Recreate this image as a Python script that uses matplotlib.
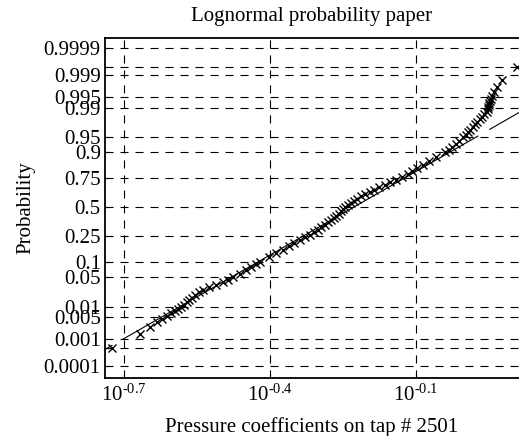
import matplotlib
matplotlib.use("Agg")
import matplotlib.pyplot as plt
import numpy as np
from statistics import NormalDist

plt.rcParams["font.family"] = ["Liberation Serif", "DejaVu Serif"]
plt.rcParams["mathtext.fontset"] = "custom"
plt.rcParams["mathtext.rm"] = "Liberation Serif"
plt.rcParams["mathtext.it"] = "Liberation Serif:italic"
plt.rcParams["mathtext.default"] = "regular"
plt.rcParams["lines.scale_dashes"] = False

# sorted pressure coefficients (log10 of Cp) and their plotting positions
cp_exp = [-0.7246, -0.6671, -0.6466, -0.6322, -0.6220, -0.6117, -0.6035, -0.5953,
          -0.5891, -0.5830, -0.5768, -0.5706, -0.5665, -0.5604, -0.5542, -0.5460,
          -0.5378, -0.5255, -0.5111, -0.4967, -0.4864, -0.4762, -0.4618, -0.4495,
          -0.4392, -0.4290, -0.4207, -0.4023, -0.3879, -0.3735, -0.3612, -0.3509,
          -0.3386, -0.3283, -0.3181, -0.3099, -0.3016, -0.2955, -0.2873, -0.2811,
          -0.2749, -0.2688, -0.2647, -0.2585, -0.2544, -0.2503, -0.2462, -0.2400,
          -0.2339, -0.2277, -0.2216, -0.2133, -0.2051, -0.1949, -0.1867, -0.1764,
          -0.1641, -0.1538, -0.1415, -0.1292, -0.1168, -0.1086, -0.0984, -0.0860,
          -0.0737, -0.0593, -0.0409, -0.0326, -0.0265, -0.0183, -0.0121, -0.0039,
          0.0023, 0.0064, 0.0105, 0.0166, 0.0207, 0.0248, 0.0310, 0.0351,
          0.0392, 0.0454, 0.0474, 0.0485, 0.0495, 0.0505, 0.0515, 0.0536,
          0.0556, 0.0598, 0.0659, 0.0762, 0.1070]
prob = [0.0005, 0.0015, 0.0025, 0.0035, 0.0045, 0.0055, 0.0065, 0.0075,
        0.0085, 0.0095, 0.011, 0.013, 0.015, 0.017, 0.020, 0.023,
        0.026, 0.030, 0.035, 0.040, 0.045, 0.050, 0.060, 0.070,
        0.080, 0.090, 0.100, 0.12, 0.14, 0.16, 0.18, 0.20,
        0.22, 0.24, 0.26, 0.28, 0.30, 0.32, 0.34, 0.36,
        0.38, 0.40, 0.42, 0.44, 0.46, 0.48, 0.50, 0.52,
        0.54, 0.56, 0.58, 0.60, 0.62, 0.64, 0.66, 0.68,
        0.70, 0.72, 0.74, 0.76, 0.78, 0.80, 0.82, 0.84,
        0.86, 0.88, 0.90, 0.91, 0.92, 0.93, 0.94, 0.95,
        0.955, 0.96, 0.965, 0.97, 0.974, 0.977, 0.980, 0.983,
        0.985, 0.987, 0.989, 0.9905, 0.9915, 0.9925, 0.9935, 0.9945,
        0.9955, 0.9965, 0.9975, 0.9985, 0.9995]

# fitted lognormal reference line (log10 units) and the pieces that are drawn
fit_median_exp = -0.228
fit_sigma_exp = 0.1534
fit_pieces = [(-0.739, -0.7246), (-0.702, 0.0269), (0.0515, 0.1116)]

prob_ticks = [0.0001, 0.0005, 0.001, 0.005, 0.01, 0.05, 0.1, 0.25, 0.5,
              0.75, 0.9, 0.95, 0.99, 0.995, 0.999, 0.9995, 0.9999]
prob_labels = ["0.0001", "", "0.001", "0.005", "0.01", "0.05", "0.1", "0.25", "0.5",
               "0.75", "0.9", "0.95", "0.99", "0.995", "0.999", "", "0.9999"]
x_tick_exp = ["-0.7", "-0.4", "-0.1"]
x_range_exp = (-0.739, 0.1116)
z_range = (-4.0, 3.96)

nd = NormalDist()
FS = 15

fig = plt.figure(figsize=(5.19, 4.36), dpi=100)
ax = fig.add_axes([105 / 519, 1 - 378 / 436, 1 - 105 / 519, 340 / 436])

x = 10 ** np.array(cp_exp)
z = np.array([nd.inv_cdf(p) for p in prob])
ax.plot(x, z, "x", color="k", ms=6, mew=1.0, zorder=3)

for a, b in fit_pieces:
    ends = np.array([a, b])
    ax.plot(10 ** ends, (ends - fit_median_exp) / fit_sigma_exp,
            "-", color="k", lw=0.8, zorder=2)

ax.set_xscale("log")
ax.set_xlim(10 ** x_range_exp[0], 10 ** x_range_exp[1])
ax.set_ylim(*z_range)
ax.set_xticks([10 ** float(e) for e in x_tick_exp])
# hyphen rather than math minus, like the original labels
ax.set_xticklabels([f"$10^{{\u2010{e[1:]}}}$" for e in x_tick_exp], fontsize=FS)
ax.xaxis.set_minor_locator(matplotlib.ticker.NullLocator())
ax.set_yticks([nd.inv_cdf(p) for p in prob_ticks])
ax.set_yticklabels(prob_labels, fontsize=FS)

ax.grid(True, color="k", lw=0.8, linestyle=(0, (5.8, 5)))
ax.set_axisbelow(True)
ax.tick_params(direction="in", length=3, width=0.8, colors="k")
ax.tick_params(axis="x", pad=5)
ax.tick_params(axis="y", pad=3)
ax.spines["right"].set_visible(False)
for s in ["left", "top", "bottom"]:
    ax.spines[s].set_linewidth(1.3)

ax.set_title("Lognormal probability paper", fontsize=FS, pad=12)
ax.set_xlabel("Pressure coefficients on tap # 2501", fontsize=FS)
ax.xaxis.set_label_coords(0.5, -0.115)
ax.set_ylabel("Probability", fontsize=FS)
ax.yaxis.set_label_coords(-0.168, 0.5)

fig.savefig("out.png", dpi=100)
